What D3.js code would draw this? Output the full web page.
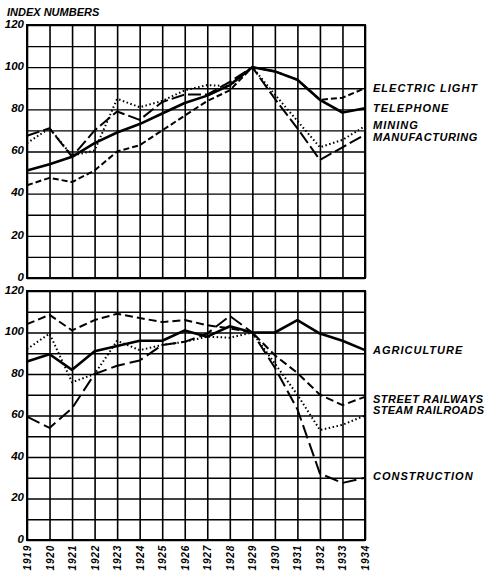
<!DOCTYPE html>
<html><head><meta charset="utf-8">
<script src="https://cdn.jsdelivr.net/npm/d3@7"></script>
<style>
body{margin:0;background:#fff;}
text{font-family:"Liberation Sans",Arial,sans-serif;font-weight:bold;font-style:italic;fill:#000;}
</style></head><body>
<svg id="c" width="489" height="573"></svg>
<script>
const years = [1919,1920,1921,1922,1923,1924,1925,1926,1927,1928,1929,1930,1931,1932,1933,1934];
const yTicks = [0,20,40,60,80,100,120];

// Top panel
const electricLight = [44,47.5,45.5,51,60,63,70,77,84,89,100,98,94,84.5,85.5,90];
const telephone     = [51,54,57.5,64,69,73,78,83,86.5,91.5,100,98,94,84.5,78.5,80.5];
const mining        = [64,71,58,60.5,85,81,84,89,91.5,91,100,87,74.5,62,65.5,72];
const manufacturing = [67.5,71,57.5,70,79,75,83.5,87,87,93,100,85,71,56,62,68];

// Bottom panel
const agriculture    = [86,89.5,82,91,93.5,96,96,101,98,103,100,100,106,99.5,96,91.5];
const streetRailways = [104,108.5,101,106,109,107,105,106,103.5,102,100,89,80.5,70,65,69];
const steamRailroads = [92,99.5,76,80,96,91.5,94,95.5,98,97.5,100,85,70,53,55.5,60];
const construction   = [59.5,54,63.5,80,84,86.5,94,95.5,99.5,108,100,83,63,32,27.5,30];

const topNames = ["ELECTRIC LIGHT","TELEPHONE","MINING","MANUFACTURING"];
const bottomNames = ["AGRICULTURE","STREET RAILWAYS","STEAM RAILROADS","CONSTRUCTION"];

const svg = d3.select("#c");
const x = d3.scaleLinear().domain([1919,1934]).range([27,365]);

function panel(y0, y1, series, labels, showYears){
  const y = d3.scaleLinear().domain([0,120]).range([y1,y0]);
  const g = svg.append("g");
  g.append("g").attr("transform",`translate(${x.range()[0]},0)`)
    .call(d3.axisLeft(y).tickValues(d3.range(0,121,10)).tickSize(-(x.range()[1]-x.range()[0])).tickFormat(""))
    .call(a=>a.select(".domain").remove())
    .call(a=>a.selectAll("line").attr("stroke","#000").attr("stroke-width",1.4));
  g.append("g").attr("transform",`translate(0,${y1})`)
    .call(d3.axisBottom(x).tickValues(years).tickSize(-(y1-y0)).tickFormat(""))
    .call(a=>a.select(".domain").remove())
    .call(a=>a.selectAll("line").attr("stroke","#000").attr("stroke-width",1.6));
  g.append("rect").attr("x",x.range()[0]).attr("y",y0).attr("width",x.range()[1]-x.range()[0]).attr("height",y1-y0)
    .attr("fill","none").attr("stroke","#000").attr("stroke-width",2);
  const ya = g.append("g").attr("transform",`translate(${x.range()[0]-3},0)`)
    .call(d3.axisLeft(y).tickValues(yTicks).tickSize(0).tickPadding(0));
  ya.select(".domain").remove();
  ya.selectAll("text").attr("font-size",11.5).attr("font-family","Liberation Sans").attr("font-weight","bold").attr("font-style","italic").attr("dy","0.2em");
  const line = d3.line().x((d,i)=>x(years[i])).y(d=>y(d));
  series.forEach(s=>{
    g.append("path").datum(s.values).attr("d",line).attr("fill","none")
      .attr("stroke","#000").attr("stroke-width",s.w).attr("stroke-dasharray",s.dash)
      .attr("stroke-linejoin","round").attr("stroke-linecap","butt");
  });
  labels.forEach(l=>{
    g.append("text").attr("x",373).attr("y",l.y).attr("font-size",11).attr("letter-spacing",l.ls).text(l.t);
  });
  if(showYears){
    g.selectAll(".yr").data(years).enter().append("text")
      .attr("transform",d=>`translate(${x(d)+4},545) rotate(-90)`)
      .attr("text-anchor","end").attr("font-size",10).attr("letter-spacing",0.8).text(d=>d);
  }
}

panel(25,278,[
  {values:electricLight,dash:"6,3",w:2},
  {values:manufacturing,dash:"13,4",w:2},
  {values:mining,dash:"1.5,2.5",w:2},
  {values:telephone,dash:null,w:2.6}
],[
  {t:topNames[0],y:92,ls:1},{t:topNames[1],y:112,ls:1},{t:topNames[2],y:129,ls:1},{t:topNames[3],y:141,ls:0.6}
],false);

panel(291,540,[
  {values:streetRailways,dash:"8,4",w:2},
  {values:construction,dash:"14,5",w:2},
  {values:steamRailroads,dash:"1.5,2.5",w:2},
  {values:agriculture,dash:null,w:2.6}
],[
  {t:bottomNames[0],y:354,ls:1},{t:bottomNames[1],y:403,ls:0.5},{t:bottomNames[2],y:414,ls:0.3},{t:bottomNames[3],y:480,ls:1}
],true);

svg.append("text").attr("x",7).attr("y",16).attr("font-size",11).text("INDEX NUMBERS");
</script>
</body></html>
